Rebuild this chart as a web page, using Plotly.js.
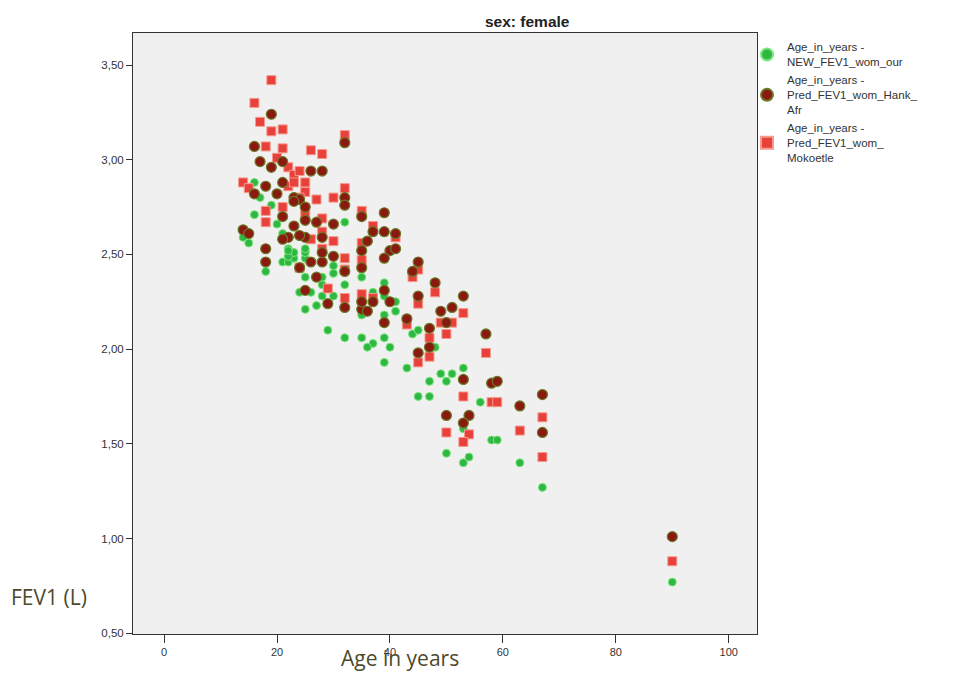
<!DOCTYPE html>
<html>
<head>
<meta charset="utf-8">
<script src="https://cdn.plot.ly/plotly-3.0.1.min.js"></script>
<style>
  html, body { margin: 0; padding: 0; background: #ffffff; }
  #chart { width: 957px; height: 673px; }
</style>
</head>
<body>
<div id="chart"></div>
<script>
// Observed FEV1 (green)
var ageOur = [14,15,16,16,17,18,19,20,21,22,21,22,23,23,24,25,25,25,26,27,28,29,30,30,32,32,28,22,30,28,22,25,25,25,
  32,35,39,37,41,39,35,39,41,35,37,36,39,40,39,43,44,45,48,49,51,53,47,50,47,45,56,53,50,53,54,58,59,63,67,90];
var fevOur = [2.59,2.56,2.88,2.71,2.80,2.41,2.76,2.66,2.61,2.53,2.46,2.46,2.48,2.51,2.30,2.21,2.48,2.52,2.30,2.23,2.28,2.10,2.40,2.28,2.06,2.34,2.34,2.49,2.44,2.38,2.52,2.51,2.53,2.38,
  2.67,2.38,2.35,2.30,2.25,2.28,2.18,2.18,2.20,2.06,2.03,2.01,2.06,2.01,1.93,1.90,2.08,2.10,2.01,1.87,1.87,1.90,1.83,1.83,1.75,1.75,1.72,1.58,1.45,1.40,1.43,1.52,1.52,1.40,1.27,0.77];

// Predicted FEV1 Hankinson (dark red)
var ageHank = [19,16,17,19,21,26,28,32,18,16,20,21,23,24,32,14,15,18,18,21,23,25,23,25,27,30,32,22,25,28,26,28,24,27,30,32,25,29,32,35,35,35,24,21,28,
  39,37,39,41,36,40,41,35,39,45,44,48,39,35,37,40,45,53,51,49,50,43,39,36,47,47,45,57,53,58,59,50,54,53,63,67,67,90];
var fevHank = [3.24,3.07,2.99,2.96,2.99,2.94,2.94,3.09,2.86,2.82,2.82,2.88,2.80,2.79,2.80,2.63,2.61,2.53,2.46,2.70,2.78,2.75,2.65,2.68,2.67,2.66,2.76,2.59,2.59,2.59,2.46,2.46,2.43,2.38,2.49,2.41,2.31,2.24,2.22,2.21,2.70,2.43,2.60,2.58,2.51,
  2.72,2.62,2.62,2.61,2.57,2.52,2.53,2.52,2.48,2.46,2.41,2.35,2.31,2.25,2.25,2.25,2.28,2.28,2.22,2.20,2.14,2.16,2.14,2.20,2.11,2.01,1.98,2.08,1.84,1.82,1.83,1.65,1.65,1.61,1.70,1.76,1.56,1.01];

// Predicted FEV1 Mokoetle (red squares)
var ageMok = [19,16,17,19,21,32,18,21,26,28,20,22,23,24,14,15,22,25,27,30,32,23,25,18,18,26,28,30,24,21,25,28,28,32,32,35,24,29,32,35,
  35,37,41,35,37,45,44,48,45,43,49,51,53,50,47,47,45,57,53,58,59,50,54,53,63,67,67,90];
var fevMok = [3.42,3.30,3.20,3.15,3.16,3.13,3.07,3.06,3.05,3.03,3.01,2.96,2.92,2.94,2.88,2.85,2.86,2.88,2.79,2.80,2.85,2.88,2.83,2.73,2.67,2.58,2.62,2.57,2.80,2.75,2.71,2.69,2.53,2.48,2.42,2.47,2.43,2.32,2.27,2.29,
  2.73,2.65,2.59,2.56,2.27,2.24,2.38,2.30,2.42,2.13,2.14,2.14,2.19,2.08,2.06,1.96,1.93,1.98,1.75,1.72,1.72,1.56,1.55,1.51,1.57,1.64,1.43,0.88];

var legendNames = [
  "Age_in_years -<br>NEW_FEV1_wom_our",
  "Age_in_years -<br>Pred_FEV1_wom_Hank_<br>Afr",
  "Age_in_years -<br>Pred_FEV1_wom_<br>Mokoetle"
];
var xTicks = [0, 20, 40, 60, 80, 100];
var yTicks = [0.5, 1.0, 1.5, 2.0, 2.5, 3.0, 3.5];

var traces = [
  {
    x: ageOur, y: fevOur, type: 'scatter', mode: 'markers', name: legendNames[0], legendrank: 1,
    marker: { symbol: 'circle', size: 8, color: '#2fb744', line: { color: '#7ce67c', width: 1 } }
  },
  {
    x: ageMok, y: fevMok, type: 'scatter', mode: 'markers', name: legendNames[2], legendrank: 3,
    marker: { symbol: 'square', size: 9, color: '#e8403a', line: { color: '#f59a8c', width: 1 } }
  },
  {
    x: ageHank, y: fevHank, type: 'scatter', mode: 'markers', name: legendNames[1], legendrank: 2,
    marker: { symbol: 'circle', size: 10, color: '#8a1a10', line: { color: '#6a7a2a', width: 1.2 } }
  }
];

var layout = {
  width: 957, height: 673,
  paper_bgcolor: '#ffffff',
  plot_bgcolor: '#f0f0f0',
  separators: ', ',
  margin: { l: 133, r: 200, t: 33, b: 39, pad: 0 },
  showlegend: true,
  legend: {
    x: 0.984, xanchor: 'left', y: 1.0, yanchor: 'top',
    bgcolor: 'rgba(0,0,0,0)',
    font: { family: 'Liberation Sans, Arial, sans-serif', size: 11.5, color: '#333333' },
    tracegroupgap: 2,
    itemsizing: 'constant'
  },
  xaxis: {
    range: [-5.5, 105],
    tickvals: xTicks,
    ticktext: xTicks.map(String),
    ticks: 'outside', ticklen: 8, tickwidth: 1, tickcolor: '#333333',
    showgrid: false, zeroline: false,
    showline: true, linecolor: '#333333', linewidth: 1, mirror: true,
    tickfont: { family: 'Liberation Sans, Arial, sans-serif', size: 11, color: '#333333' }
  },
  yaxis: {
    range: [0.496, 3.669],
    tickvals: yTicks,
    tickformat: '.2f',
    ticks: 'outside', ticklen: 6, tickwidth: 1, tickcolor: '#333333',
    showgrid: false, zeroline: false,
    showline: true, linecolor: '#333333', linewidth: 1, mirror: true,
    tickfont: { family: 'Liberation Sans, Arial, sans-serif', size: 11.5, color: '#333333' }
  },
  annotations: [
    {
      text: '<b>sex: female</b>', xref: 'paper', yref: 'paper',
      x: 0.632, y: 1.0, xanchor: 'center', yanchor: 'bottom', yshift: 1, showarrow: false,
      font: { family: 'Liberation Sans, Arial, sans-serif', size: 15.5, color: '#222222' }
    },
    {
      text: 'FEV1 (L)', xref: 'paper', yref: 'paper',
      x: -0.198, y: 0.062, xanchor: 'left', yanchor: 'middle', showarrow: false,
      font: { family: 'Liberation Sans Narrow, Open Sans, sans-serif', size: 21, color: '#4d4a2c' }
    },
    {
      text: 'Age in years', xref: 'paper', yref: 'paper',
      x: 0.428, y: 0, xanchor: 'center', yanchor: 'top', yshift: -8, showarrow: false,
      font: { family: 'Liberation Sans Narrow, Open Sans, sans-serif', size: 21, color: '#4d4a2c' }
    }
  ]
};

Plotly.newPlot('chart', traces, layout, { displayModeBar: false, staticPlot: true });
</script>
</body>
</html>
